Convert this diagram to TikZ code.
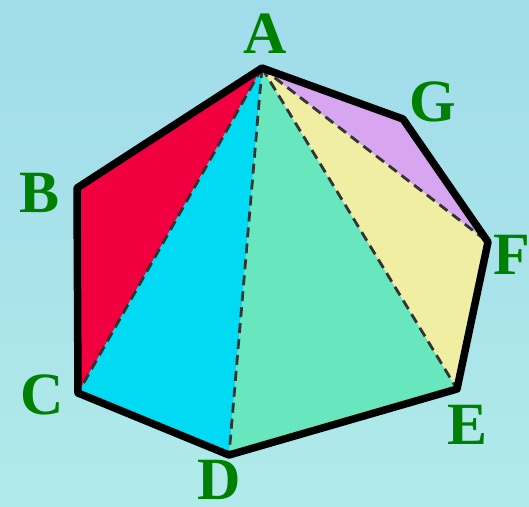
\documentclass[tikz,border=0pt]{standalone}
\usepackage{fontspec}
\setmainfont{Liberation Serif}
\definecolor{skytop}{RGB}{160,220,234}
\definecolor{skybot}{RGB}{176,234,234}
\definecolor{cred}{RGB}{240,0,62}
\definecolor{ccyan}{RGB}{0,218,242}
\definecolor{cgreen}{RGB}{104,230,190}
\definecolor{cyellow}{RGB}{240,238,162}
\definecolor{cpurple}{RGB}{216,166,240}
\definecolor{lblgreen}{RGB}{0,128,0}
\tikzset{
  lbl/.style={text=lblgreen,font=\fontsize{60}{60}\selectfont\bfseries,inner sep=0pt},
  outline/.style={line width=7.5pt,black,line join=round,line cap=round},
  dline/.style={line width=2.8pt,black!80,dash pattern=on 10pt off 6pt}
}
\begin{document}
\begin{tikzpicture}[x=1pt,y=-1pt]
\shade[top color=skytop,bottom color=skybot] (0,0) rectangle (529,506);
\useasboundingbox (0,0) rectangle (529,506);
\coordinate (A) at (262,68);
\coordinate (B) at (77,188);
\coordinate (C) at (78,393);
\coordinate (D) at (229,455);
\coordinate (E) at (457,389);
\coordinate (F) at (488,242);
\coordinate (G) at (403,119);
\fill[cred] (A) -- (B) -- (C) -- cycle;
\fill[ccyan] (A) -- (C) -- (D) -- cycle;
\fill[cgreen] (A) -- (D) -- (E) -- cycle;
\fill[cyellow] (A) -- (E) -- (F) -- cycle;
\fill[cpurple] (A) -- (F) -- (G) -- cycle;
\draw[dline] (A) -- (C);
\draw[dline] (A) -- (D);
\draw[dline] (A) -- (E);
\draw[dline] (A) -- (F);
\draw[outline] (A) -- (B) -- (C) -- (D) -- (E) -- (F) -- (G) -- cycle;
\node[lbl] (lA) at (265,34) {A};
\node[lbl] (lB) at (40,193) {B};
\node[lbl] (lC) at (42,395) {C};
\node[lbl] (lD) at (219,480) {D};
\node[lbl] (lE) at (468,425) {E};
\node[lbl] (lF) at (512,255) {F};
\node[lbl] (lG) at (433,102) {G};
\end{tikzpicture}
\end{document}
